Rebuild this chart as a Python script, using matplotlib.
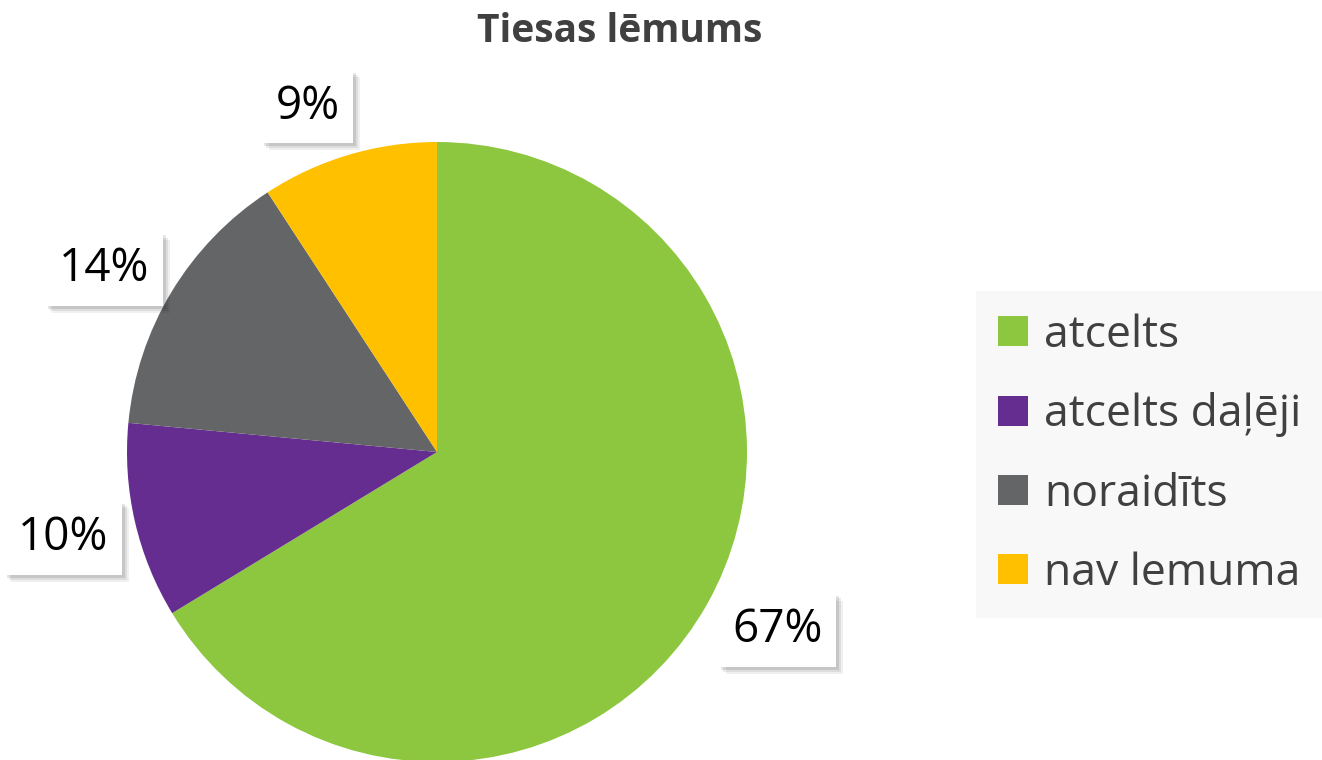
import matplotlib
matplotlib.use("Agg")
import numpy as np
import matplotlib.pyplot as plt
import matplotlib.patheffects as pe

categories = ["atcelts", "atcelts daļēji", "noraidīts", "nav lemuma"]
values = [66.3, 10.2, 14.3, 9.2]          # slice shares as drawn
value_labels = ["67%", "10%", "14%", "9%"]  # labels as printed on the chart
colors = ["#8DC63F", "#662D91", "#646567", "#FFC000"]
title = "Tiesas lēmums"

# label placement tweaks (layout only): angle shift in degrees, radial distance
label_shift = [1.7, 0.0, 2.4, 4.0]
label_dist = [1.24, 1.237, 1.225, 1.19]

plt.rcParams['font.family'] = ['Open Sans', 'DejaVu Sans']

W, H = 1322, 760
fig = plt.figure(figsize=(W / 100, H / 100), dpi=100)
cx, cy, r = 437, 452, 310
ax = fig.add_axes([(cx - r) / W, (H - cy - r) / H, 2 * r / W, 2 * r / H])

label_iter = iter(value_labels)
wedges, texts, autotexts = ax.pie(
    values, colors=colors, startangle=90, counterclock=False, radius=1,
    autopct=lambda p: next(label_iter), pctdistance=1.235,
    wedgeprops=dict(edgecolor='white', linewidth=0),
    textprops=dict(fontsize=33, color='black'))
ax.set_xlim(-1, 1)
ax.set_ylim(-1, 1)
ax.set_aspect('equal')
ax.axis('off')
for w, t, s, d in zip(wedges, autotexts, label_shift, label_dist):
    mid = np.deg2rad((w.theta1 + w.theta2) / 2 + s)
    t.set_position((d * np.cos(mid), d * np.sin(mid)))
    t.set_clip_on(False)
    t.set_bbox(dict(facecolor='white', edgecolor='none', boxstyle='square,pad=0.3'))
    t.get_bbox_patch().set_path_effects([
        pe.SimplePatchShadow(offset=(5, -5), shadow_rgbFace='black', alpha=0.06),
        pe.SimplePatchShadow(offset=(3.5, -3.5), shadow_rgbFace='black', alpha=0.08),
        pe.SimplePatchShadow(offset=(2, -2), shadow_rgbFace='black', alpha=0.10),
        pe.Normal()])

fig.text(620 / W, 1 - 32 / H, title, ha='center', va='center',
         fontsize=28, fontweight='bold', color='#404040')

leg = fig.legend(wedges, categories, loc='upper left',
                 bbox_to_anchor=(976 / W, 1 - 291 / H),
                 fontsize=32, frameon=True, fancybox=False,
                 facecolor='#F8F8F8', edgecolor='none', framealpha=1,
                 handlelength=0.68, handleheight=0.68, handletextpad=0.35,
                 labelspacing=0.78, borderpad=0.5, borderaxespad=0)
for t in leg.get_texts():
    t.set_color('#404040')

fig.savefig("out.png", dpi=100)
